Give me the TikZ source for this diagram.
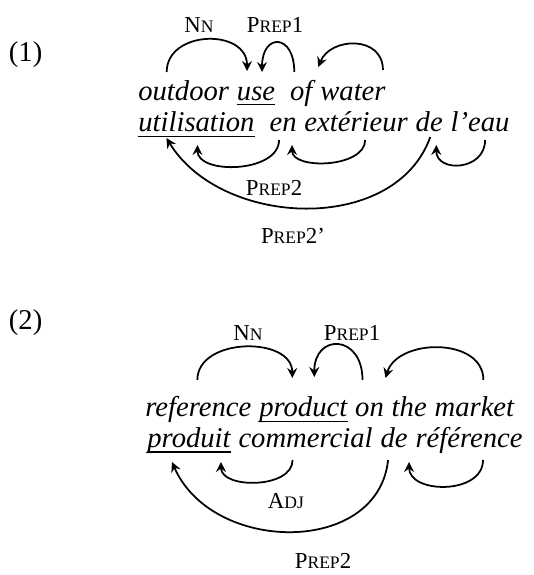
\documentclass[tikz,border=0pt]{standalone}
\usepackage{fontspec}
\setmainfont{Liberation Serif}
\usetikzlibrary{positioning, arrows.meta}

% fake small caps: first letter full size, rest smaller
\newcommand{\fakesc}[2]{#1{\fontsize{10}{12}\selectfont #2}}

\begin{document}
\begin{tikzpicture}[x=0.02cm, y=0.02cm,
        word/.style={inner sep=0pt, font=\fontsize{16.3}{19}\selectfont\itshape},
        exnum/.style={inner sep=0pt, anchor=base west, font=\fontsize{16.3}{19}\selectfont},
        deplabel/.style={inner sep=0pt, anchor=base, font=\fontsize{13}{15}\selectfont},
        deparc/.style={line width=1pt, -{Stealth[length=2mm, width=2mm, inset=0.7mm]}},
        headline/.style={line width=1pt}]
        \useasboundingbox (0,0) rectangle (534,-575);

        % example (1)
        \node[exnum] (ex1) at (8.6,-61) {(1)};
        \node[word, anchor=base west] (outdoor) at (138,-100) {outdoor};
        \node[word, base right=4.1pt of outdoor] (use) {use};
        \node[word, base right=8.15pt of use] (of) {of};
        \node[word, base right=4.1pt of of] (water) {water};
        \node[word, anchor=base west] (utilisation) at (138,-131) {utilisation};
        \node[word, base right=8.15pt of utilisation] (en) {en};
        \node[word, base right=4.1pt of en] (exterieur) {extérieur};
        \node[word, base right=4.1pt of exterieur] (de) {de};
        \node[word, base right=4.1pt of de] (leau) {l’eau};
        % heads
        \draw[headline] ([shift={(0,-4.5)}]use.base west) -- ([shift={(0,-4.5)}]use.base east);
        \draw[headline] ([shift={(0,-5.5)}]utilisation.base west) -- ([shift={(0,-5.5)}]utilisation.base east);

        % english arcs
        \draw[deparc] ([shift={(-17,28)}]outdoor.base) .. controls +(0,42) and +(0,43) .. ([shift={(-9,29)}]use.base);
        \draw[deparc] ([shift={(-7,28)}]of.base) .. controls +(0,39) and +(0,39) .. ([shift={(6,28)}]use.base);
        \draw[deparc] ([shift={(30,30)}]water.base) .. controls +(0,35) and +(12,30) .. ([shift={(17,33)}]of.base);
        \node[deplabel] (nn1) at (199,-32) {\fakesc{N}{N}};
        \node[deplabel] (prepa1) at (275,-32) {\fakesc{P}{REP}1};

        % french arcs
        \draw[deparc] ([shift={(-4,-9)}]en.base) .. controls +(0,-33) and +(0,-30) .. ([shift={(1,-14)}]utilisation.base);
        \draw[deparc] ([shift={(9,-9)}]exterieur.base) .. controls +(0,-28) and +(0,-25) .. ([shift={(9,-14)}]en.base);
        \draw[deparc] ([shift={(1,-6)}]de.base) .. controls +(-35,-98) and +(55,-90) .. ([shift={(-30,-7)}]utilisation.base);
        \draw[deparc] ([shift={(5,-9)}]leau.base) .. controls +(0,-31) and +(0,-28) .. ([shift={(7,-14)}]de.base);
        \node[deplabel] (prepb1) at (274,-195) {\fakesc{P}{REP}2};
        \node[deplabel] (prepc1) at (293,-243) {\fakesc{P}{REP}2’};

        % example (2)
        \node[exnum] (ex2) at (8.6,-329) {(2)};
        \node[word, anchor=base west] (reference) at (145,-416) {reference};
        \node[word, base right=4.1pt of reference] (product) {product};
        \node[word, base right=4.1pt of product] (on) {on};
        \node[word, base right=4.1pt of on] (the) {the};
        \node[word, base right=4.1pt of the] (market) {market};
        \node[word, anchor=base west] (produit) at (147,-447) {produit};
        \node[word, base right=4.1pt of produit] (commercial) {commercial};
        \node[word, base right=4.1pt of commercial] (de2) {de};
        \node[word, base right=4.1pt of de2] (referencefr) {référence};
        % heads
        \draw[headline] ([shift={(0,-5.5)}]product.base west) -- ([shift={(0,-5.5)}]product.base east);
        \draw[headline] ([shift={(0,-5)}]produit.base west) -- ([shift={(0,-5)}]produit.base east);

        % english arcs
        \draw[deparc] ([shift={(-1,36)}]reference.base) .. controls +(0,43) and +(0,42) .. ([shift={(-11,38)}]product.base);
        \draw[deparc] ([shift={(-7,36)}]on.base) .. controls +(0,46) and +(0,44) .. ([shift={(11,39)}]product.base);
        \draw[deparc] ([shift={(9,36)}]market.base) .. controls +(0,43) and +(12,40) .. ([shift={(16,38)}]on.base);
        \node[deplabel] (nn2) at (248,-340) {\fakesc{N}{N}};
        \node[deplabel] (prepa2) at (352,-340) {\fakesc{P}{REP}1};

        % french arcs
        \draw[deparc] ([shift={(-13,-13)}]commercial.base) .. controls +(0,-29) and +(0,-27) .. ([shift={(32,-15)}]produit.base);
        \draw[deparc] ([shift={(-6,-13)}]de2.base) .. controls +(-10,-96) and +(40,-92) .. ([shift={(-17,-15)}]produit.base);
        \draw[deparc] ([shift={(14,-13)}]referencefr.base) .. controls +(0,-35) and +(0,-32) .. ([shift={(15,-15)}]de2.base);
        \node[deplabel] (adj2) at (286,-508) {\fakesc{A}{DJ}};
        \node[deplabel] (prepb2) at (323,-568) {\fakesc{P}{REP}2};
\end{tikzpicture}
\end{document}
